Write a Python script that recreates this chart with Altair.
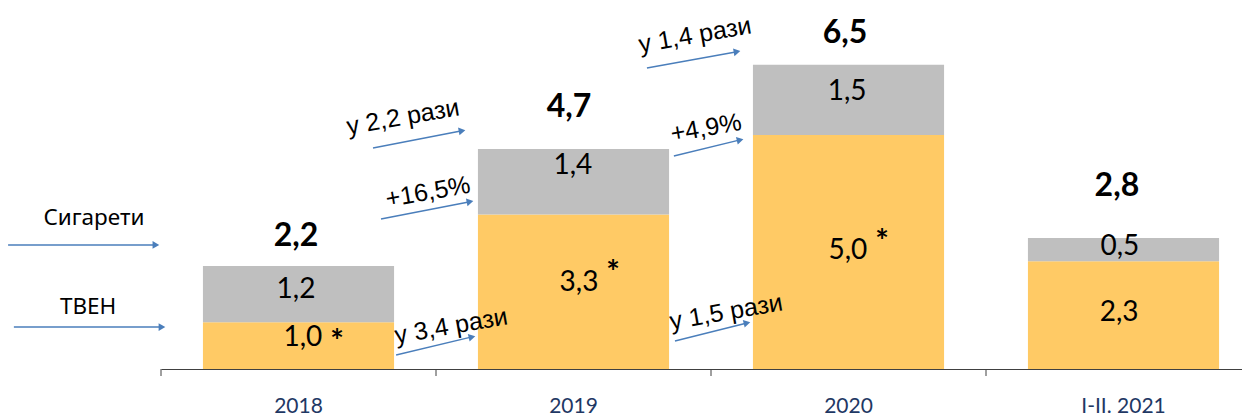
import math
import altair as alt
import pandas as pd

# ---- data ----
years = ["2018", "2019", "2020", "I-II. 2021"]
tven = [1.0, 3.3, 5.0, 2.3]          # ТВЕН (yellow)
cig = [1.2, 1.4, 1.5, 0.5]           # Сигарети (grey)
series_names = ["ТВЕН", "Сигарети"]

# annotation placement (x in category-index units, y in value units)
total_lx = [0.491, 1.484, 2.487, 3.476]
total_ly = [2.842, 5.598, 7.179, 3.910]
cig_lx = [0.491, 1.498, 2.495, 3.487]
cig_ly = [1.688, 4.338, 5.919, 2.607]
tven_lx = [0.516, 1.520, 2.498, 3.484]
tven_ly = [0.662, 1.838, 2.521, 1.197]
star_x = [0.640, 1.644, 2.622]
star_y = [0.748, 2.222, 2.885]

legend_text = ["Сигарети", "ТВЕН"]
legend_tx = [-0.244, -0.265]
legend_ty = [3.226, 1.325]

growth_text = ["у 2,2 рази", "+16,5%", "у 3,4 рази", "у 1,4 рази", "+4,9%", "у 1,5 рази"]
growth_tx = [0.880, 0.971, 1.055, 1.942, 1.982, 2.055]
growth_ty = [5.385, 3.782, 0.919, 7.137, 5.150, 1.218]

arrow_x1 = [-0.556, -0.535, 0.855, 0.800, 0.771, 1.865, 1.869, 1.767]
arrow_y1 = [2.650, 0.897, 0.299, 3.205, 4.722, 4.551, 0.598, 6.432]
arrow_x2 = [-0.004, 0.018, 1.145, 1.138, 1.109, 2.120, 2.145, 2.109]
arrow_y2 = [2.650, 0.897, 0.705, 3.590, 5.107, 4.915, 1.004, 6.795]

# ---- layout constants ----
STEP = 275.0
W = 1081
H = 361
YMAX = 7.714
PXY = H / YMAX

YELLOW = "#FFCA65"
GREY = "#BFBFBF"
BLUE = "#4A7EBB"


def fmt(v):
    return f"{v:.1f}".replace(".", ",")


rows = []
for i, y in enumerate(years):
    rows.append({"year": y, "series": "ТВЕН", "value": tven[i], "ord": 0})
    rows.append({"year": y, "series": "Сигарети", "value": cig[i], "ord": 1})
bars_df = pd.DataFrame(rows)

labels_df = pd.DataFrame(
    [{"x": total_lx[i], "y": total_ly[i], "t": fmt(tven[i] + cig[i])} for i in range(4)]
)
seg_df = pd.DataFrame(
    [{"x": cig_lx[i], "y": cig_ly[i], "t": fmt(cig[i])} for i in range(4)]
    + [{"x": tven_lx[i], "y": tven_ly[i], "t": fmt(tven[i])} for i in range(4)]
)
star_df = pd.DataFrame({"x": star_x, "y": star_y, "t": ["*"] * 3})
legend_df = pd.DataFrame({"x": legend_tx, "y": legend_ty, "t": legend_text})
growth_df = pd.DataFrame({"x": growth_tx, "y": growth_ty, "t": growth_text})

arows = []
for x1, y1, x2, y2 in zip(arrow_x1, arrow_y1, arrow_x2, arrow_y2):
    dxp = (x2 - x1) * STEP
    dyp = (y2 - y1) * PXY
    L = math.hypot(dxp, dyp)
    ux, uy = dxp / L, dyp / L
    hx = x2 - 4.0 * ux / STEP
    hy = y2 - 4.0 * uy / PXY
    ang = (-math.degrees(math.atan2(dyp, dxp))) % 360
    arows.append({"x1": x1, "y1": y1, "hx": hx, "hy": hy, "ang": ang})
arrow_df = pd.DataFrame(arows)

tick_df = pd.DataFrame({"x": list(range(len(years)))})

yscale = alt.Scale(domain=[0, YMAX], nice=False, zero=True)
qx = alt.Scale(domain=[0, 4], range=[0, STEP * 4], nice=False, zero=False)

bars = alt.Chart(bars_df).mark_bar().encode(
    x=alt.X(
        "year:N",
        sort=years,
        scale=alt.Scale(range=[0, STEP * 4], paddingInner=0.305, paddingOuter=0.1525),
        axis=alt.Axis(
            title=None,
            ticks=False,
            labelAngle=0,
            labelFont="Lato",
            labelFontSize=21,
            labelColor="#1F3864",
            labelPadding=26,
            domainColor="#404040",
            domainWidth=1,
        ),
    ),
    y=alt.Y("value:Q", stack="zero", scale=yscale, axis=None),
    color=alt.Color(
        "series:N",
        scale=alt.Scale(domain=series_names, range=[YELLOW, GREY]),
        legend=None,
    ),
    order=alt.Order("ord:Q"),
)

ticks = alt.Chart(tick_df).mark_rule(color="#404040", strokeWidth=1).encode(
    x=alt.X("x:Q", scale=qx, axis=None),
    y=alt.value(H),
    y2=alt.value(H + 7),
)

totals = alt.Chart(labels_df).mark_text(
    font="Lato", fontSize=32, fontWeight="bold", color="#000000", baseline="middle"
).encode(
    x=alt.X("x:Q", scale=qx, axis=None),
    y=alt.Y("y:Q", scale=yscale, axis=None),
    text="t:N",
)

segs = alt.Chart(seg_df).mark_text(
    font="Lato", fontSize=28, color="#000000", baseline="middle"
).encode(
    x=alt.X("x:Q", scale=qx, axis=None),
    y=alt.Y("y:Q", scale=yscale, axis=None),
    text="t:N",
)

stars = alt.Chart(star_df).mark_text(
    font="Lato", fontSize=32, fontWeight="bold", color="#000000", baseline="middle", dy=9
).encode(
    x=alt.X("x:Q", scale=qx, axis=None),
    y=alt.Y("y:Q", scale=yscale, axis=None),
    text="t:N",
)

legend_txt = alt.Chart(legend_df).mark_text(
    font="Noto Sans", fontSize=22.5, color="#000000", baseline="middle"
).encode(
    x=alt.X("x:Q", scale=qx, axis=None),
    y=alt.Y("y:Q", scale=yscale, axis=None),
    text="t:N",
)

growth_txt = alt.Chart(growth_df).mark_text(
    font="Liberation Sans", fontSize=25, color="#000000", baseline="middle", angle=350
).encode(
    x=alt.X("x:Q", scale=qx, axis=None),
    y=alt.Y("y:Q", scale=yscale, axis=None),
    text="t:N",
)

arrow_lines = alt.Chart(arrow_df).mark_rule(color=BLUE, strokeWidth=1.4).encode(
    x=alt.X("x1:Q", scale=qx, axis=None),
    y=alt.Y("y1:Q", scale=yscale, axis=None),
    x2="hx:Q",
    y2="hy:Q",
)

arrow_heads = alt.Chart(arrow_df).mark_point(
    shape="triangle-right", filled=True, color=BLUE, opacity=1, size=60
).encode(
    x=alt.X("hx:Q", scale=qx, axis=None),
    y=alt.Y("hy:Q", scale=yscale, axis=None),
    angle=alt.Angle("ang:Q", scale=None),
)

annot = alt.layer(
    ticks, arrow_lines, arrow_heads, totals, segs, stars, legend_txt, growth_txt
)

chart = (
    alt.layer(bars, annot)
    .resolve_scale(x="independent")
    .properties(
        width=W,
        height=H,
        autosize=alt.AutoSizeParams(type="none"),
        padding={"left": 153, "top": 0, "right": 0, "bottom": 47},
    )
    .configure(background="white")
    .configure_view(stroke=None, strokeWidth=0)
)

chart.save("out.html", embed_options={"renderer": "svg", "actions": False})
